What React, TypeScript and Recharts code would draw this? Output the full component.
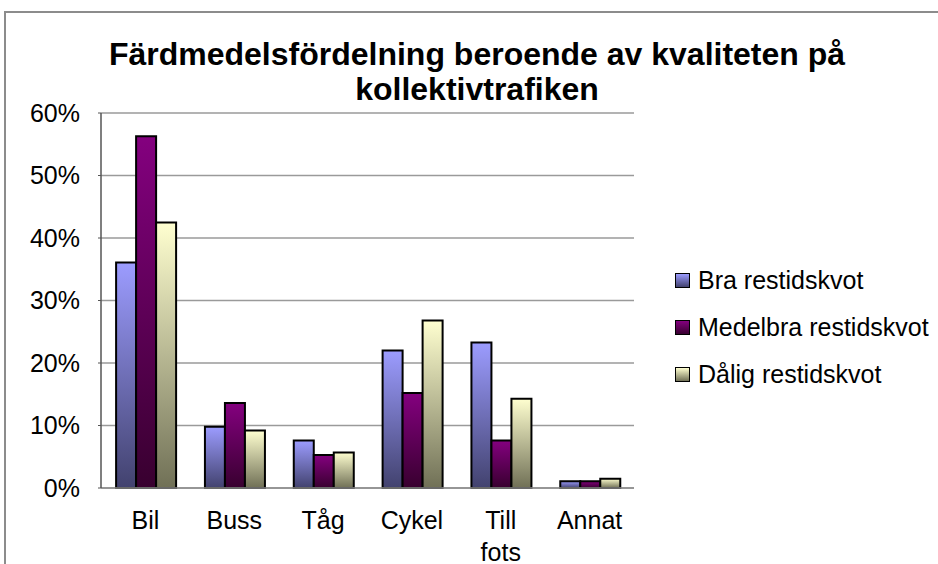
import * as React from "react";
import { BarChart, Bar, XAxis, YAxis, CartesianGrid, Text } from "recharts";

const categories = ["Bil", "Buss", "Tåg", "Cykel", "Till fots", "Annat"];
const braValues = [0.361, 0.098, 0.076, 0.22, 0.233, 0.011];
const medelbraValues = [0.563, 0.136, 0.053, 0.152, 0.076, 0.011];
const daligValues = [0.425, 0.092, 0.057, 0.268, 0.143, 0.015];
const yTicks = [0, 0.1, 0.2, 0.3, 0.4, 0.5, 0.6];

const seriesInfo = [
  { key: "bra", name: "Bra restidskvot", top: "#9c9cff", bottom: "#42426e" },
  { key: "medelbra", name: "Medelbra restidskvot", top: "#84007f", bottom: "#38002f" },
  { key: "dalig", name: "Dålig restidskvot", top: "#ffffd0", bottom: "#707056" },
];

const data = categories.map((name, i) => ({
  name,
  bra: braValues[i],
  medelbra: medelbraValues[i],
  dalig: daligValues[i],
}));

const FONT = '"Liberation Sans", Arial, sans-serif';

// only multi-word labels wrap, single words stay on one line
function CategoryTick({ x, y, payload }: any) {
  return (
    <Text
      x={x}
      y={y}
      width={40}
      textAnchor="middle"
      verticalAnchor="start"
      lineHeight={32}
      style={{ fontSize: 25, fontFamily: FONT }}
      fontSize={25}
      fontFamily={FONT}
      fill="#000"
    >
      {payload.value}
    </Text>
  );
}

function LegendBox() {
  return (
    <div style={{ fontFamily: FONT, fontSize: 25, color: "#000" }}>
      {seriesInfo.map((s) => (
        <div key={s.key} style={{ display: "flex", alignItems: "center", height: 47 }}>
          <div
            style={{
              width: 13,
              height: 13,
              border: "1.5px solid #000",
              background: `linear-gradient(${s.top}, ${s.bottom})`,
              marginRight: 8,
            }}
          />
          <span style={{ whiteSpace: "nowrap" }}>{s.name}</span>
        </div>
      ))}
    </div>
  );
}

export default function App() {
  return (
    <div
      style={{
        position: "absolute",
        left: 0,
        top: 0,
        width: 938,
        height: 564,
        overflow: "hidden",
        background: "#fff",
      }}
    >
      <div
        style={{
          position: "absolute",
          left: 4,
          top: 11,
          width: 1000,
          height: 1000,
          borderLeft: "2px solid #8c8c8c",
          borderTop: "2px solid #8c8c8c",
        }}
      />
      <div
        style={{
          position: "absolute",
          left: 0,
          top: 37,
          width: 954,
          textAlign: "center",
          fontFamily: FONT,
          fontWeight: "bold",
          fontSize: 32,
          lineHeight: "35px",
          color: "#000",
        }}
      >
        Färdmedelsfördelning beroende av kvaliteten på
        <br />
        kollektivtrafiken
      </div>
      <div style={{ position: "absolute", left: 0, top: 0 }}>
        <BarChart
          width={938}
          height={564}
          data={data}
          margin={{ top: 113, right: 304, bottom: 0, left: 0 }}
          barCategoryGap="17%"
          barGap={0}
        >
          <defs>
            {seriesInfo.map((s) => (
              <linearGradient key={s.key} id={`grad-${s.key}`} x1="0" y1="0" x2="0" y2="1">
                <stop offset="0%" stopColor={s.top} />
                <stop offset="100%" stopColor={s.bottom} />
              </linearGradient>
            ))}
          </defs>
          <CartesianGrid vertical={false} stroke="#9a9a9a" strokeWidth={1.5} />
          <XAxis
            dataKey="name"
            height={76}
            tickSize={0}
            tickMargin={23}
            interval={0}
            axisLine={{ stroke: "#8c8c8c", strokeWidth: 1.5 }}
            tickLine={false}
            tick={(p: any) => <CategoryTick {...p} />}
          />
          <YAxis
            domain={[0, 0.6]}
            ticks={yTicks}
            width={101}
            tickSize={3}
            tickMargin={18}
            tickFormatter={(v: number) => `${Math.round(v * 100)}%`}
            axisLine={{ stroke: "#555", strokeWidth: 1.5 }}
            tickLine={{ stroke: "#555" }}
            tick={{ fontSize: 25, fontFamily: FONT, fill: "#000" }}
          />
          <YAxis
            yAxisId="frame"
            orientation="right"
            width={0}
            tick={false}
            tickLine={false}
            axisLine={{ stroke: "#8c8c8c", strokeWidth: 1.5 }}
          />
          {seriesInfo.map((s) => (
            <Bar
              key={s.key}
              dataKey={s.key}
              name={s.name}
              fill={`url(#grad-${s.key})`}
              stroke="#000"
              strokeWidth={2}
              isAnimationActive={false}
            />
          ))}
        </BarChart>
      </div>
      <div style={{ position: "absolute", left: 675, top: 257 }}>
        <LegendBox />
      </div>
    </div>
  );
}
